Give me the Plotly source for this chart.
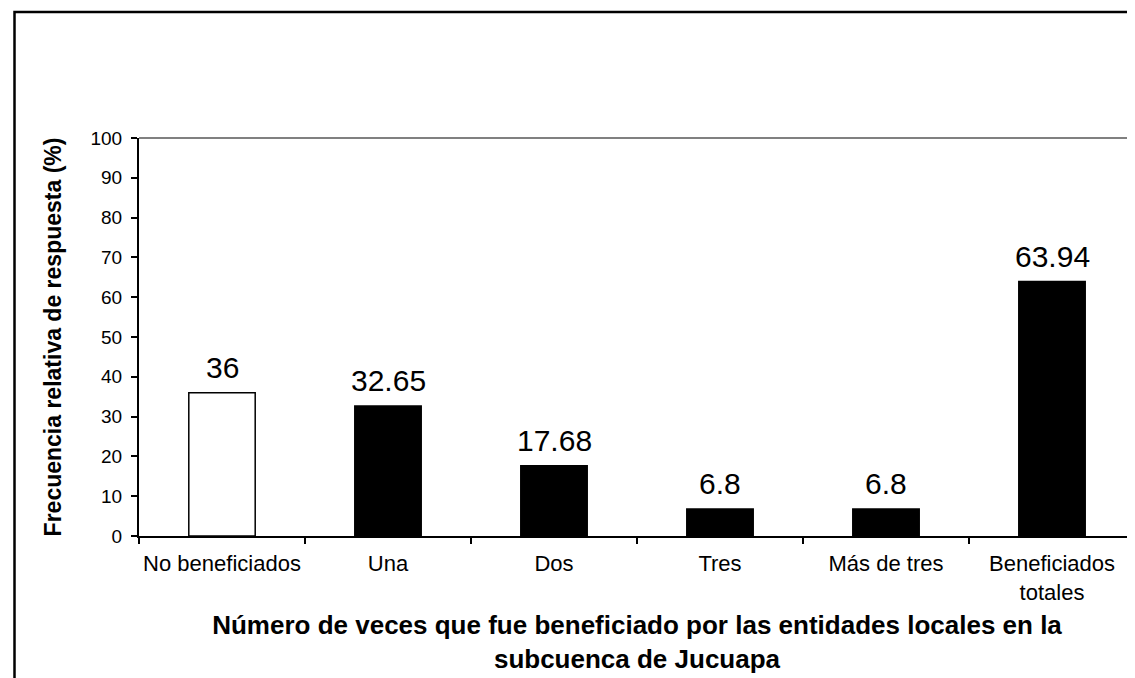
import plotly.graph_objects as go

categories = ["No beneficiados", "Una", "Dos", "Tres", "Más de tres", "Beneficiados<br>totales"]
values = [36, 32.65, 17.68, 6.8, 6.8, 63.94]
labels = ["36", "32.65", "17.68", "6.8", "6.8", "63.94"]
bar_colors = ["white", "black", "black", "black", "black", "black"]
y_ticks = list(range(0, 101, 10))

FONT = "Liberation Sans, Arial, sans-serif"

fig = go.Figure()
fig.add_trace(go.Bar(
    x=categories, y=values, width=0.4,
    marker=dict(color=bar_colors, line=dict(color="black", width=1.5)),
    showlegend=False, hoverinfo="skip",
))

for c, v, t in zip(categories, values, labels):
    fig.add_annotation(x=c, y=v, text=t, showarrow=False, yanchor="bottom",
                       yshift=7, font=dict(family=FONT, size=30, color="black"))

W, H = 1135, 678
L, R, T, B = 131, 8, 130, 150
pw, ph = W - L - R, H - T - B

def px(x):
    return (x - L) / pw

def py(y):
    return (H - B - y) / ph

# gray plot-area frame (top and right)
fig.add_shape(type="line", xref="paper", yref="paper", x0=0, x1=1, y0=1, y1=1,
              line=dict(color="#808080", width=2), layer="above")
fig.add_shape(type="line", xref="paper", yref="paper", x0=1, x1=1, y0=0, y1=1,
              line=dict(color="#808080", width=2), layer="above")
# outer chart frame
fig.add_shape(type="rect", xref="paper", yref="paper",
              x0=px(6.5), x1=px(1140), y0=py(690), y1=py(4),
              line=dict(color="black", width=2.5))

fig.update_layout(
    width=W, height=H,
    margin=dict(l=L, r=R, t=T, b=B, autoexpand=False),
    paper_bgcolor="white", plot_bgcolor="white",
    font=dict(family=FONT, color="black"),
    bargap=0.6,
    xaxis=dict(
        type="category", showline=True, linecolor="black", linewidth=2,
        ticks="outside", tickson="boundaries", ticklen=6, tickwidth=2, tickcolor="black",
        showgrid=False, tickfont=dict(size=22, family=FONT), ticklabelstandoff=7,
        tickangle=0,
        title=dict(text="<b>Número de veces que fue beneficiado por las entidades locales en la<br>subcuenca de Jucuapa</b>",
                   font=dict(size=26, family=FONT), standoff=12),
        range=[-0.5, 5.5],
    ),
    yaxis=dict(
        range=[0, 100], tickvals=y_ticks, showline=True, linecolor="black", linewidth=2,
        ticks="outside", ticklen=6, tickwidth=2, tickcolor="black",
        showgrid=False, zeroline=False, tickfont=dict(size=19, family=FONT),
        ticklabelstandoff=5,
        title=dict(text="<b>Frecuencia relativa de respuesta (%)</b>",
                   font=dict(size=23, family=FONT), standoff=22),
    ),
)

fig.write_html("out.html")
